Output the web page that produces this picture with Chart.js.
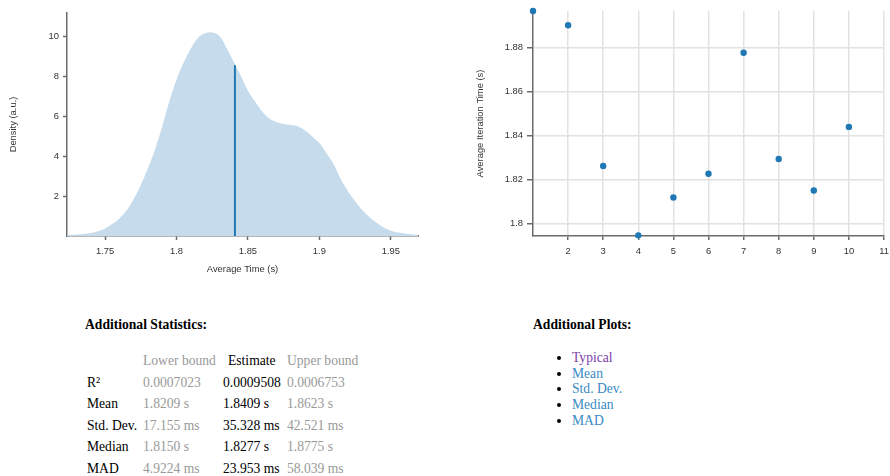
<!DOCTYPE html>
<html>
<head>
<meta charset="utf-8">
<script src="https://cdn.jsdelivr.net/npm/chart.js@4.4.0/dist/chart.umd.min.js"></script>
<style>
  body { margin: 0; background: #fff; font-family: "Liberation Serif", serif; font-size: 13.6px; color: #000; }
  #pdfBox { position: absolute; left: 0; top: 0; width: 430px; height: 280px; }
  #iterBox { position: absolute; left: 460px; top: 0; width: 430px; height: 280px; }
  h4 { margin: 0; font-size: 13.6px; font-weight: bold; position: absolute; }
  #statsTitle { left: 85px; top: 317px; }
  #plotsTitle { left: 533px; top: 317px; }
  table { position: absolute; left: 87px; top: 350.5px; border-collapse: collapse; }
  td, th { padding: 0; height: 21.5px; text-align: left; font-weight: normal; white-space: nowrap; }
  .ci { color: #999; }
  ul { position: absolute; left: 572px; top: 350px; margin: 0; padding: 0; line-height: 15.7px; }
  li { margin: 0; }
  a { text-decoration: none; color: #3a8ac4; }
  a.visited { color: #7b3ea8; }
</style>
</head>
<body>
<div id="pdfBox"><canvas id="graficoPdf" width="430" height="280"></canvas></div>
<div id="iterBox"><canvas id="graficoIter" width="430" height="280"></canvas></div>

<h4 id="statsTitle">Additional Statistics:</h4>
<table>
  <tr><th style="width:56px"></th><th class="ci" style="width:80px">Lower bound</th><th style="width:64px;padding-left:5px;box-sizing:border-box">Estimate</th><th class="ci">Upper bound</th></tr>
  <tr><td>R²</td><td class="ci">0.0007023</td><td>0.0009508</td><td class="ci">0.0006753</td></tr>
  <tr><td>Mean</td><td class="ci">1.8209 s</td><td>1.8409 s</td><td class="ci">1.8623 s</td></tr>
  <tr><td>Std. Dev.</td><td class="ci">17.155 ms</td><td>35.328 ms</td><td class="ci">42.521 ms</td></tr>
  <tr><td>Median</td><td class="ci">1.8150 s</td><td>1.8277 s</td><td class="ci">1.8775 s</td></tr>
  <tr><td>MAD</td><td class="ci">4.9224 ms</td><td>23.953 ms</td><td class="ci">58.039 ms</td></tr>
</table>

<h4 id="plotsTitle">Additional Plots:</h4>
<ul>
  <li><a class="visited" href="#">Typical</a></li>
  <li><a href="#">Mean</a></li>
  <li><a href="#">Std. Dev.</a></li>
  <li><a href="#">Median</a></li>
  <li><a href="#">MAD</a></li>
</ul>

<script>
// --- datos: densidad (PDF) ---
const densX = [1.7234, 1.73, 1.735, 1.74, 1.745, 1.75, 1.755, 1.76, 1.765, 1.77, 1.775, 1.78, 1.785,
  1.79, 1.795, 1.80, 1.805, 1.81, 1.815, 1.82, 1.825, 1.83, 1.835, 1.84, 1.845, 1.85, 1.855, 1.86,
  1.865, 1.87, 1.875, 1.88, 1.885, 1.89, 1.895, 1.90, 1.905, 1.91, 1.915, 1.92, 1.925, 1.93, 1.935,
  1.94, 1.945, 1.95, 1.955, 1.96, 1.965, 1.969];
const densY = [0.05, 0.07, 0.1, 0.15, 0.24, 0.38, 0.6, 0.88, 1.28, 1.85, 2.55, 3.4, 4.35,
  5.5, 6.75, 7.85, 8.7, 9.4, 9.95, 10.18, 10.22, 10.05, 9.45, 8.75, 8.05, 7.3, 6.75, 6.25,
  5.9, 5.72, 5.63, 5.57, 5.5, 5.3, 5.0, 4.67, 4.15, 3.6, 2.85, 2.25, 1.75, 1.3, 0.95,
  0.66, 0.43, 0.26, 0.17, 0.12, 0.08, 0.06];
const meanEst = 1.8409;
const meanTop = 8.58;
const pdfXTicks = [1.75, 1.8, 1.85, 1.9, 1.95];
const pdfYTicks = [2, 4, 6, 8, 10];

// --- datos: tiempo por iteración ---
const iterN = [1, 2, 3, 4, 5, 6, 7, 8, 9, 10];
const iterT = [1.8967, 1.8902, 1.8262, 1.7947, 1.8119, 1.8227, 1.8777, 1.8294, 1.8151, 1.8440];
const iterXTicks = [2, 3, 4, 5, 6, 7, 8, 9, 10, 11];
const iterYTicks = [1.8, 1.82, 1.84, 1.86, 1.88];

const fuente = { family: '"Liberation Sans", Arial, sans-serif', size: 9.4 };
const gris = '#333';
const ejeColor = '#6b6b6b';
const fmt = v => String(+v.toFixed(2));

function dibujarPdf() {
    const ctx = document.getElementById('graficoPdf').getContext('2d');
    new Chart(ctx, {
        type: 'line',
        data: {
            datasets: [
                { data: densX.map((x, i) => ({ x, y: densY[i] })), fill: 'origin', backgroundColor: '#c6dcec',
                  borderColor: 'transparent', borderWidth: 0, pointRadius: 0, tension: 0.4, order: 2 },
                // línea de la media encima del área
                { data: [{ x: meanEst, y: 0 }, { x: meanEst, y: meanTop }], borderColor: '#1f78b4',
                  borderWidth: 2, pointRadius: 0, fill: false, order: 1 }
            ]
        },
        options: {
            responsive: false, animation: false, events: [],
            layout: { padding: { top: 13, right: 12, left: 0, bottom: 0 } },
            plugins: { legend: { display: false }, tooltip: { enabled: false } },
            scales: {
                x: {
                    type: 'linear', min: 1.7234, max: 1.969,
                    afterBuildTicks: s => { s.ticks = pdfXTicks.map(v => ({ value: v })); },
                    afterFit: s => { s.height = 44; },
                    ticks: { font: fuente, color: gris, padding: 6, callback: fmt, maxRotation: 0 },
                    grid: { display: true, drawOnChartArea: false, drawTicks: true, tickLength: 4, tickColor: ejeColor, tickWidth: 1.5 },
                    border: { display: true, color: ejeColor, width: 1.5 },
                    title: { display: true, text: 'Average Time (s)', font: fuente, color: gris, padding: { top: 4, bottom: 5 } }
                },
                y: {
                    min: 0, max: 11.2,
                    afterBuildTicks: s => { s.ticks = pdfYTicks.map(v => ({ value: v })); },
                    afterFit: s => { s.width = 67; },
                    ticks: { font: fuente, color: gris, padding: 4 },
                    grid: { display: true, drawOnChartArea: false, drawTicks: true, tickLength: 4, tickColor: ejeColor, tickWidth: 1.5 },
                    border: { display: true, color: ejeColor, width: 1.5 },
                    title: { display: true, text: 'Density (a.u.)', font: fuente, color: gris, padding: { top: 8, bottom: 0 } }
                }
            }
        }
    });
}

function dibujarIteraciones() {
    const ctx = document.getElementById('graficoIter').getContext('2d');
    new Chart(ctx, {
        type: 'scatter',
        data: {
            datasets: [{ data: iterN.map((n, i) => ({ x: n, y: iterT[i] })), backgroundColor: '#1f78b4',
                         borderWidth: 0, pointRadius: 3.2, clip: false }]
        },
        options: {
            responsive: false, animation: false, events: [],
            layout: { padding: { top: 11, right: 0, left: 0, bottom: 0 } },
            plugins: { legend: { display: false }, tooltip: { enabled: false } },
            scales: {
                x: {
                    type: 'linear', min: 1, max: 11,
                    afterBuildTicks: s => { s.ticks = iterXTicks.map(v => ({ value: v })); },
                    afterFit: s => { s.height = 44; s.paddingRight = 6; },
                    ticks: { font: fuente, color: gris, padding: 6 },
                    grid: { color: '#e2e2e2', lineWidth: 1.5, drawTicks: true, tickLength: 4, tickColor: ejeColor, tickWidth: 1.5 },
                    border: { display: true, color: ejeColor, width: 1.5 }
                },
                y: {
                    min: 1.7944, max: 1.8967,
                    afterBuildTicks: s => { s.ticks = iterYTicks.map(v => ({ value: v })); },
                    afterFit: s => { s.width = 73; },
                    ticks: { font: fuente, color: gris, padding: 4, callback: fmt },
                    grid: { color: '#e2e2e2', lineWidth: 1.5, drawTicks: true, tickLength: 6, tickColor: ejeColor, tickWidth: 1.5 },
                    border: { display: true, color: ejeColor, width: 1.5 },
                    title: { display: true, text: 'Average Iteration Time (s)', font: fuente, color: gris, padding: { top: 15, bottom: 0 } }
                }
            }
        }
    });
}

dibujarPdf();
dibujarIteraciones();
</script>
</body>
</html>
